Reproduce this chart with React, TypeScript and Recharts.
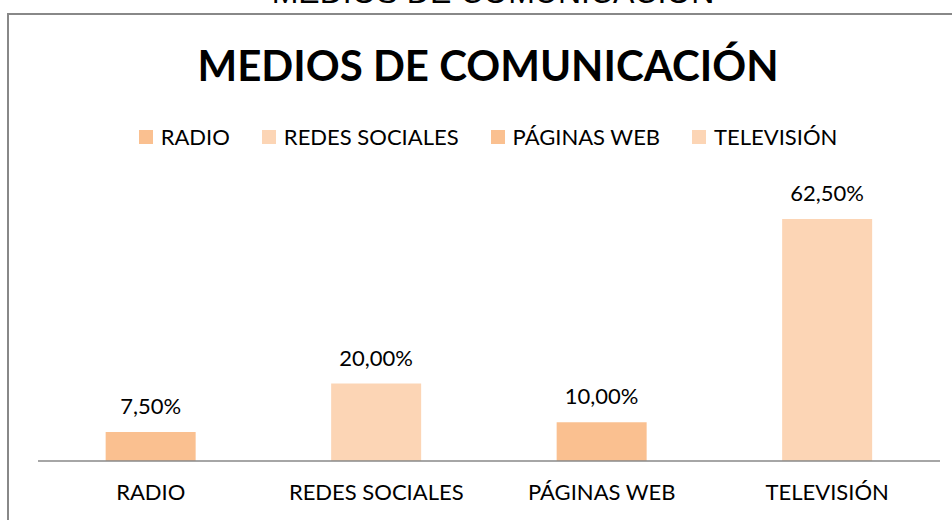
import { BarChart, Bar, XAxis, YAxis, Cell, LabelList } from "recharts"

const categories = ["RADIO", "REDES SOCIALES", "PÁGINAS WEB", "TELEVISIÓN"]
const percentages = [7.5, 20, 10, 62.5]
const barColors = ["#FAC090", "#FCD5B5", "#FAC090", "#FCD5B5"]

const data = categories.map((name, i) => ({ name, value: percentages[i] }))

const FONT = "Lato, 'Open Sans', sans-serif"

const fmt = (v: any) => `${Number(v).toFixed(2).replace(".", ",")}%`

function ChartLegend() {
  return (
    <div style={{ position: "absolute", left: 0, top: 123, width: 976, display: "flex", justifyContent: "center", gap: 32, fontFamily: FONT, fontSize: 22, color: "#000" }}>
      {categories.map((c, i) => (
        <div key={c} style={{ display: "flex", alignItems: "center", gap: 8 }}>
          <span style={{ width: 14, height: 14, background: barColors[i], display: "inline-block" }} />
          <span>{c}</span>
        </div>
      ))}
    </div>
  )
}

export default function App() {
  return (
    <div style={{ position: "absolute", left: 0, top: 0, width: 952, height: 520, overflow: "hidden", background: "#fff" }}>
      {/* cut-off caption above the frame */}
      <div style={{ position: "absolute", left: 0, top: -27, width: 986, textAlign: "center", fontFamily: "'Liberation Sans', Arial, sans-serif", fontSize: 32, lineHeight: "38px", color: "#000" }}>
        MEDIOS DE COMUNICACIÓN
      </div>
      {/* chart frame, only top and left edges are visible */}
      <div style={{ position: "absolute", left: 7, top: 13, width: 945, height: 507, borderTop: "2px solid #888", borderLeft: "2px solid #888", boxSizing: "border-box" }} />
      <div style={{ position: "absolute", left: 0, top: 40, width: 976, textAlign: "center", fontFamily: FONT, fontWeight: 700, fontSize: 42, color: "#000" }}>
        MEDIOS DE COMUNICACIÓN
      </div>
      <ChartLegend />
      <div style={{ position: "absolute", left: 0, top: 0 }}>
        <BarChart width={952} height={520} data={data} margin={{ top: 190, right: 12, left: 38, bottom: 0 }} barCategoryGap="30%">
          <XAxis
            dataKey="name"
            height={59}
            axisLine={{ stroke: "#888", strokeWidth: 1.5 }}
            tickLine={false}
            tickSize={0}
            tickMargin={23}
            tick={{ fill: "#000", fontFamily: FONT, fontSize: 22 }}
            interval={0}
          />
          <YAxis hide domain={[0, 70]} />
          <Bar dataKey="value" isAnimationActive={false}>
            {data.map((d, i) => (
              <Cell key={d.name} fill={barColors[i]} />
            ))}
            <LabelList dataKey="value" position="top" offset={18} formatter={fmt} style={{ fill: "#000", fontFamily: FONT, fontSize: 22 }} />
          </Bar>
        </BarChart>
      </div>
    </div>
  )
}
